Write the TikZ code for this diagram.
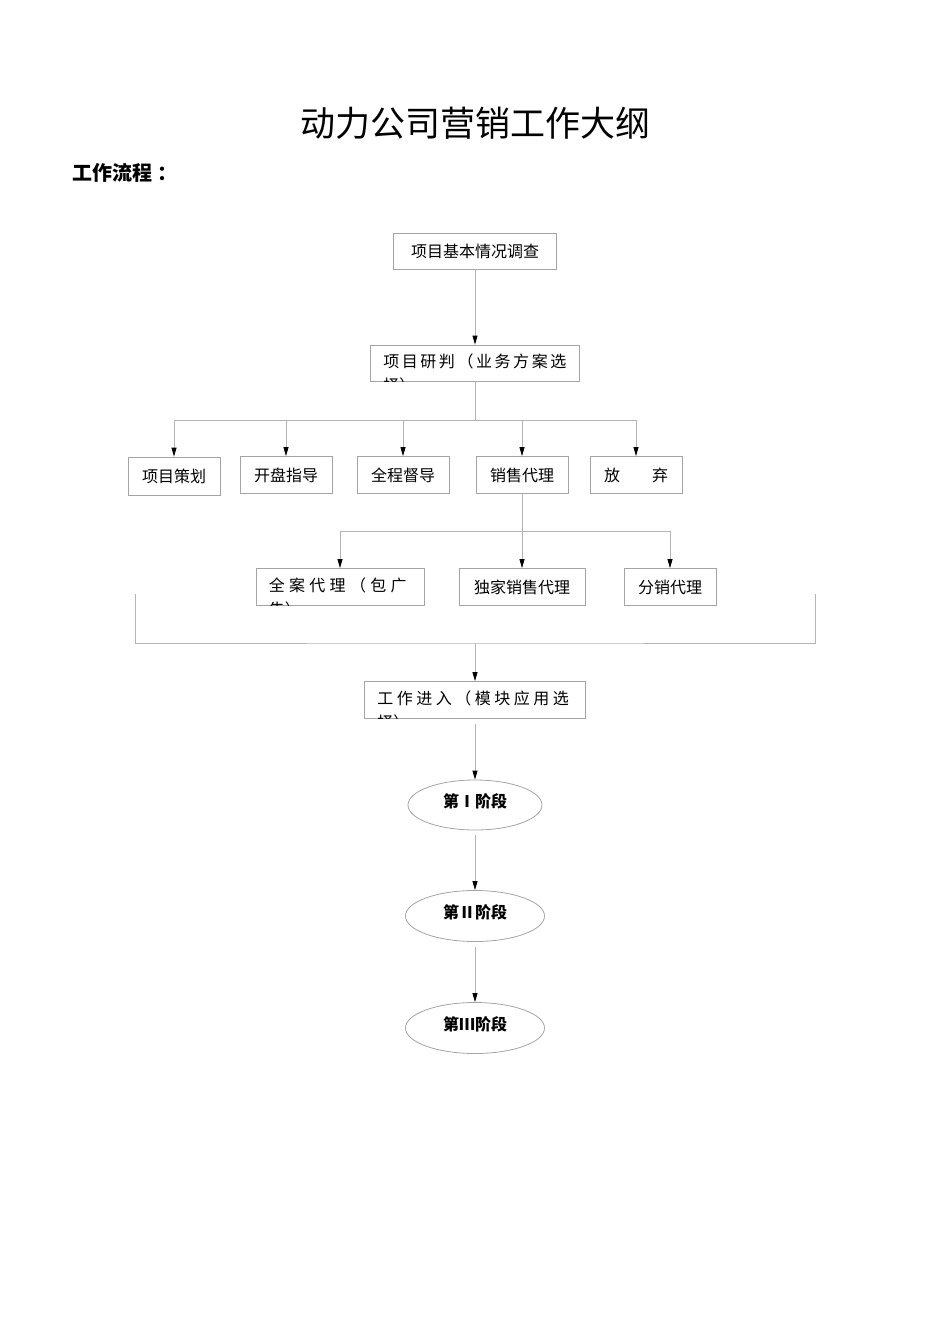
\documentclass[tikz,border=0pt]{standalone}
\usepackage{fontspec}
\setmainfont{Noto Sans CJK SC}
\usetikzlibrary{arrows.meta,calc,shapes.geometric}
\definecolor{linegray}{HTML}{B4B4B4}
\definecolor{boxgray}{HTML}{A4A4A4}
\begin{document}
\begin{tikzpicture}[x=1pt, y=-1pt,
  box/.style = {draw=boxgray, line width=0.8pt, inner sep=0pt, font=\fontsize{16}{18}\selectfont},
  stage/.style = {draw=boxgray, ellipse, line width=0.8pt, inner sep=0pt, text depth=8pt, font=\fontsize{16}{18}\selectfont\bfseries},
  wide/.style = {inner sep=0pt, align=left, font=\fontsize{16}{24}\selectfont},
  wire/.style = {draw=linegray, line width=0.8pt},
  arr/.style = {wire, -{Triangle[length=9pt,width=5pt,color=black]}}]
\useasboundingbox (0,0) rectangle (950,1344);
% headings
\node[font=\fontsize{35}{40}\selectfont] (title) at (475,123) {动力公司营销工作大纲};
\node[font=\fontsize{20}{24}\selectfont\bfseries, anchor=west, inner sep=0pt] (flow) at (72,173) {工作流程\hspace{5pt}：};
% boxes
\node[box, minimum width=163, minimum height=36] (survey) at (475,251) {项目基本情况调查};
\node[box, minimum width=209, minimum height=36] (study) at (475,363) {};
\node[box, minimum width=92, minimum height=38] (plan) at (174,476) {项目策划};
\node[box, minimum width=92, minimum height=37] (open) at (286,475) {开盘指导};
\node[box, minimum width=92, minimum height=37] (super) at (403,475) {全程督导};
\node[box, minimum width=92, minimum height=37] (sales) at (522,475) {销售代理};
\node[box, minimum width=92, minimum height=37] (quit) at (636,475) {放　　弃};
\node[box, minimum width=168, minimum height=37] (full) at (340,587) {};
\node[box, minimum width=126, minimum height=37] (excl) at (522,587) {独家销售代理};
\node[box, minimum width=92, minimum height=37] (dist) at (670,587) {分销代理};
\node[box, minimum width=221, minimum height=37] (work) at (475,700) {};
\node[stage, minimum width=134, minimum height=50] (st1) at (475,805) {第Ⅰ阶段};
\node[stage, minimum width=139, minimum height=51] (st2) at (475,916) {第Ⅱ阶段};
\node[stage, minimum width=139, minimum height=51] (st3) at (475,1028) {第Ⅲ阶段};
% texts cut off by their boxes
\foreach \n/\s/\t in {study/16/{项目研判（业务方案选\\择）}, full/27/{全案代理（包广\\告）}, work/22/{工作进入（模块应用选\\择）}} {
  \begin{scope}
    \clip (\n.north west) rectangle (\n.south east);
    \node[wide, anchor=north west] at ($(\n.north west)+(13,9)$) {\addfontfeature{LetterSpace=\s}\t};
  \end{scope}
}
% connectors
\coordinate (fork1) at (475,420);
\coordinate (fork2) at (522,531);
\coordinate (brl) at (135,594);
\coordinate (brr) at (815,594);
\coordinate (join) at (475,643);
\draw[arr] (survey) -- (study);
\draw[wire] (study) -- (fork1);
\draw[wire] (plan.north |- fork1) -- (quit.north |- fork1);
\foreach \n in {plan,open,super,sales,quit}
  \draw[arr] (\n.north |- fork1) -- (\n.north);
\draw[wire] (sales) -- (fork2);
\draw[wire] (full.north |- fork2) -- (dist.north |- fork2);
\foreach \n in {full,excl,dist}
  \draw[arr] (\n.north |- fork2) -- (\n.north);
\draw[wire] (brl) |- (join) -| (brr);
\draw[arr] (join) -- (work);
\draw[arr, shorten <=5pt] (work) -- (st1);
\draw[arr, shorten <=5pt] (st1) -- (st2);
\draw[arr, shorten <=5pt] (st2) -- (st3);
\end{tikzpicture}
\end{document}
